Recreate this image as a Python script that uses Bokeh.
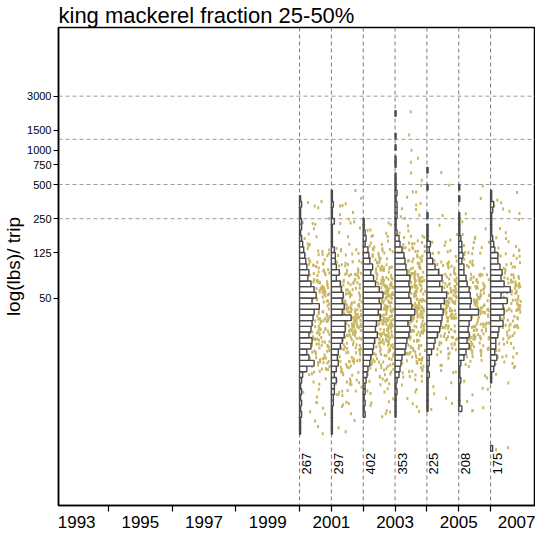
import math
from bokeh.plotting import figure
from bokeh.models import Span, FixedTicker, ColumnDataSource, NumeralTickFormatter
from bokeh.embed import file_html
from bokeh.resources import INLINE

# ---------------- data ----------------
years = [2000, 2001, 2002, 2003, 2004, 2005, 2006]
trips = [267, 297, 402, 353, 225, 208, 175]
# index of the first log10 bin (bin width 0.05 in log10 lbs) for each year
first_bin = [10, 10, 13, 13, 14, 14, 7]

hist_2000 = [1, 1, 1, 2, 1, 2, 1, 2, 1, 2,
             3, 7, 14, 9, 7, 11, 12, 9, 11, 12,
             13, 14, 19, 12, 16, 14, 11, 8, 9, 7,
             6, 5, 4, 3, 2, 1, 2, 2, 1, 1,
             2, 1]
hist_2001 = [1, 1, 1, 1, 1, 2, 2, 3, 3, 5,
             3, 5, 7, 6, 7, 9, 11, 13, 14, 14,
             20, 11, 13, 11, 12, 10, 9, 5, 8, 5,
             4, 4, 3, 1, 1, 1, 1, 3, 1, 1,
             2, 1, 1]
hist_2002 = [2, 1, 2, 1, 2, 2, 3, 4, 5, 7,
             8, 10, 11, 12, 15, 13, 14, 18, 16, 19,
             17, 21, 17, 13, 11, 8, 10, 7, 6, 5,
             2, 3, 2, 1, 1]
hist_2003 = [1, 1, 1, 1, 2, 1, 2, 4, 5, 6,
             7, 10, 11, 12, 14, 15, 13, 16, 20, 17,
             16, 14, 15, 14, 15, 12, 11, 10, 9, 7,
             5, 4, 2, 1, 1, 2, 2, 2, 1, 2,
             1, 1, 1, 0, 1, 1, 0, 1, 0, 1,
             0, 0, 0, 1]
hist_2004 = [1, 1, 1, 1, 1, 1, 2, 1, 2, 2,
             4, 6, 7, 9, 11, 12, 13, 14, 12, 15,
             17, 13, 11, 13, 10, 7, 5, 3, 2, 3,
             1, 1, 1, 0, 1, 0, 0, 0, 0, 1,
             0, 0, 1]
hist_2005 = [3, 1, 1, 1, 1, 2, 1, 1, 2, 5,
             7, 10, 8, 10, 9, 10, 12, 19, 11, 12,
             11, 10, 8, 7, 5, 5, 3, 4, 3, 3,
             2, 1, 1, 1, 1, 0, 0, 1, 0, 1]
hist_2006 = [2, 0, 0, 0, 0, 0, 0, 0, 0, 0,
             0, 0, 1, 1, 3, 4, 6, 4, 5, 5,
             7, 8, 12, 9, 13, 12, 16, 10, 19, 13,
             10, 11, 9, 7, 7, 4, 3, 2, 1, 1,
             1, 1, 2, 3, 1, 1]
hists = [hist_2000, hist_2001, hist_2002, hist_2003, hist_2004, hist_2005, hist_2006]

y_ticks = [50, 125, 250, 500, 750, 1000, 1500, 3000]
ref_levels = [250, 500, 1250, 3000]
x_label_years = [1993, 1995, 1997, 1999, 2001, 2003, 2005, 2007]
x_tick_marks = [1994, 1996, 1998, 2000, 2001, 2002, 2003, 2004, 2005, 2006]

# ---------------- style ----------------
BIN = 0.05          # log10 bin width
BAR_MAX = 0.62      # longest bar, in years
TAN = "#c8b662"
FONT = "Liberation Sans"


def jit(i, s):
    """deterministic jitter in [0, 1) for point i, stream s"""
    h = math.sin(i * 12.9898 + s * 78.233) * 43758.5453
    return h - math.floor(h)


# ---------------- build glyph data ----------------
q_left, q_right, q_bot, q_top = [], [], [], []
px, py = [], []
i = 0
for yr, n, k0, counts in zip(years, trips, first_bin, hists):
    total = sum(counts)
    cmax = max(counts)
    for j, c in enumerate(counts):
        if c == 0:
            continue
        k = k0 + j
        q_left.append(yr)
        q_right.append(yr + c / cmax * BAR_MAX)
        q_bot.append(10 ** (BIN * k))
        q_top.append(10 ** (BIN * (k + 1)))
        m = max(1, round(c * n / total))
        for _ in range(m):
            i += 1
            px.append(yr + 0.1 + 0.85 * jit(i, 1))
            py.append(10 ** (BIN * (k + jit(i, 2))))

p = figure(width=535, height=530, x_range=(1992.43, 2007.41), y_range=(0.745, 12080),
           y_axis_type="log", output_backend="svg", toolbar_location=None,
           title="king mackerel fraction 25-50%",
           min_border_left=51, min_border_right=0, min_border_top=5, min_border_bottom=5)

p.background_fill_color = "white"
p.border_fill_color = "white"
p.xgrid.visible = False
p.ygrid.visible = False
p.outline_line_color = "black"
p.outline_line_width = 1.5
p.outline_line_alpha = 1.0

p.title.text_font = FONT
p.title.text_font_size = "22px"
p.title.text_font_style = "normal"
p.title.text_color = "black"
p.title.standoff = 0

# y axis
yax = p.yaxis[0]
yax.ticker = FixedTicker(ticks=y_ticks, minor_ticks=[])
yax.formatter = NumeralTickFormatter(format="0")
yax.major_label_overrides = {t: str(t) for t in y_ticks}
yax.major_tick_out = 5
yax.major_tick_in = 0
yax.major_tick_line_color = "black"
yax.major_tick_line_width = 1.2
yax.axis_line_color = "black"
yax.axis_line_width = 1.5
yax.major_label_text_font = FONT
yax.major_label_text_font_size = "11px"
yax.major_label_text_color = "black"
yax.major_label_standoff = 2
yax.axis_label = "log(lbs)/ trip"
yax.axis_label_text_font = FONT
yax.axis_label_text_font_size = "19px"
yax.axis_label_text_font_style = "normal"
yax.axis_label_text_color = "black"
yax.axis_label_standoff = 0

# x axis
xax = p.xaxis[0]
xax.ticker = FixedTicker(ticks=x_label_years, minor_ticks=x_tick_marks)
xax.major_tick_out = 0
xax.major_tick_in = 0
xax.minor_tick_out = 6
xax.minor_tick_in = 0
xax.minor_tick_line_color = "black"
xax.minor_tick_line_width = 1.2
xax.axis_line_color = "black"
xax.axis_line_width = 1.5
xax.major_label_text_font = FONT
xax.major_label_text_font_size = "17px"
xax.major_label_text_color = "black"
xax.major_label_standoff = 4

# reference lines
for lvl in ref_levels:
    p.add_layout(Span(location=lvl, dimension="width", line_color="#9a9a9a",
                      line_dash="4 3", line_width=1, level="underlay"))
for yr in years:
    p.add_layout(Span(location=yr, dimension="height", line_color="#7a7a7a",
                      line_dash="4 3", line_width=1, level="underlay"))

# jittered trips
p.rect(x=px, y=py, width=2, height=3, width_units="screen", height_units="screen",
       fill_color=TAN, line_color=None)

# histograms
p.quad(left=q_left, right=q_right, bottom=q_bot, top=q_top,
       fill_color="white", line_color="#4a4a4a", line_width=1.4)

# counts
lab = ColumnDataSource(dict(x=years, y=[1.74] * len(years), t=[str(n) for n in trips]))
p.text(x="x", y="y", text="t", source=lab, angle=math.pi / 2, x_offset=7,
       text_align="center", text_baseline="middle", text_font_size="13px",
       text_color="black", text_font={"value": FONT})

open("out.html", "w").write(file_html(p, INLINE))
